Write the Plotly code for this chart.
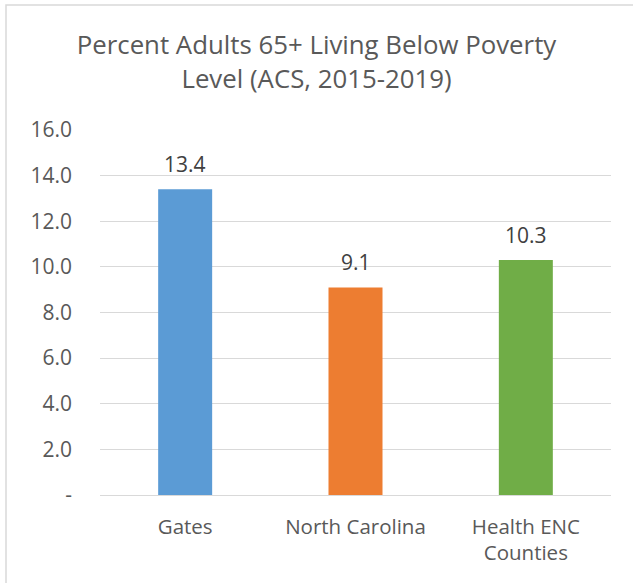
import plotly.graph_objects as go

categories = ["Gates", "North Carolina", "Health ENC<br>Counties"]
values = [13.4, 9.1, 10.3]
bar_colors = ["#5B9BD5", "#ED7D31", "#70AD47"]
tick_values = [0, 2, 4, 6, 8, 10, 12, 14, 16]
tick_labels = ["-", "2.0", "4.0", "6.0", "8.0", "10.0", "12.0", "14.0", "16.0"]

W, H = 633, 583
ML, MR, MT, MB = 100, 22, 130, 88
pw, ph = W - ML - MR, H - MT - MB

FONT = "Open Sans"
TXT = "#595959"

fig = go.Figure(
    go.Bar(
        x=categories,
        y=values,
        marker=dict(color=bar_colors, line=dict(width=0)),
        width=0.317,
        hoverinfo="skip",
    )
)

# value labels above each bar
for cat, val in zip(categories, values):
    fig.add_annotation(
        x=cat,
        y=val,
        text=f"{val:.1f}",
        showarrow=False,
        yanchor="bottom",
        yshift=9,
        font=dict(family=FONT, size=21, color="#404040"),
    )

fig.update_layout(
    width=W,
    height=H,
    margin=dict(l=ML, r=MR, t=MT, b=MB),
    paper_bgcolor="white",
    plot_bgcolor="white",
    showlegend=False,
    title=dict(
        text="Percent Adults 65+ Living Below Poverty<br>Level (ACS, 2015-2019)",
        x=0.5,
        xanchor="center",
        y=1 - 54 / H,
        yanchor="middle",
        font=dict(family=FONT, size=25.8, color=TXT),
    ),
    font=dict(family=FONT, color=TXT),
)

fig.update_yaxes(
    range=[0, 16],
    tickvals=tick_values,
    ticktext=tick_labels,
    tickfont=dict(family=FONT, size=21, color=TXT),
    showgrid=True,
    gridcolor="#D9D9D9",
    gridwidth=1,
    zeroline=True,
    zerolinecolor="#D9D9D9",
    zerolinewidth=1,
    showline=False,
    ticks="",
    ticklabelstandoff=27,
    fixedrange=True,
)

fig.update_xaxes(
    tickfont=dict(family=FONT, size=20.5, color=TXT),
    showline=False,
    ticks="",
    ticklabelstandoff=17,
    fixedrange=True,
)

# light chart-area frame
fig.add_shape(
    type="rect",
    xref="paper",
    yref="paper",
    x0=(6 - ML) / pw,
    x1=(W + 5 - ML) / pw,
    y0=(MT + ph - (H + 5)) / ph,
    y1=(MT + ph - 5) / ph,
    line=dict(color="#D9D9D9", width=1.5),
    fillcolor="rgba(0,0,0,0)",
    layer="below",
)

fig.write_html("out.html")
